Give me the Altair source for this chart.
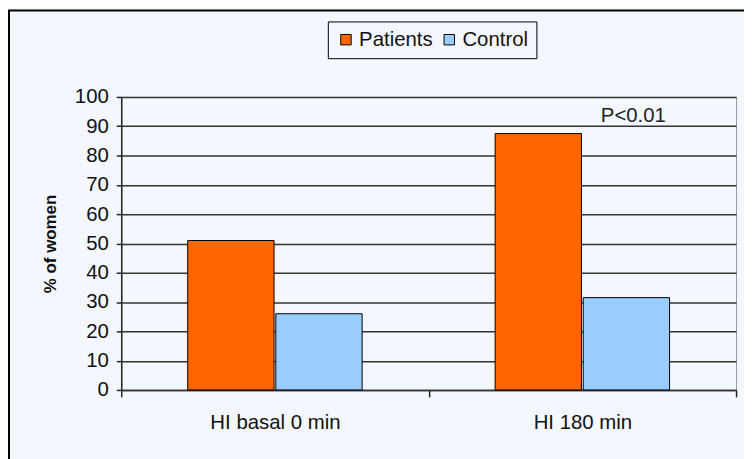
import altair as alt
import pandas as pd

categories = ["HI basal 0 min", "HI 180 min"]
series = ["Patients", "Control"]
patients = [51, 87.5]
control = [26, 31.5]
colors = ["#FF6600", "#99CCFF"]
y_ticks = [0, 10, 20, 30, 40, 50, 60, 70, 80, 90, 100]
annotation_text = ["P<0.01"]
annotation_cat = ["HI 180 min"]
annotation_series = ["Control"]
annotation_y = [93.5]

rows = []
for i, c in enumerate(categories):
    rows.append({"cat": c, "series": "Patients", "value": patients[i]})
    rows.append({"cat": c, "series": "Control", "value": control[i]})
df = pd.DataFrame(rows)
ann = pd.DataFrame({"cat": annotation_cat, "series": annotation_series,
                    "value": annotation_y, "label": annotation_text})

FONT = "Liberation Sans"
BG = "#F4F8FE"
FS = 20.5

y_axis = alt.Axis(title="% of women", values=y_ticks, labelOverlap=False,
                  titleFont=FONT, titleFontSize=17, titleFontWeight="bold",
                  titleColor="#111", titlePadding=15,
                  labelFont=FONT, labelFontSize=FS, labelColor="#111",
                  labelPadding=8, tickSize=5, tickColor="#222", tickWidth=1.5,
                  domainColor="#222", domainWidth=1.5,
                  grid=True, gridColor="#333", gridWidth=1.5)

x_axis = alt.Axis(title=None, labelAngle=0, labelFontSize=FS, labelFont=FONT,
                  labelColor="#111", tickBand="extent", tickSize=7,
                  tickColor="#222", tickWidth=1.5, domainColor="#333",
                  domainWidth=1.5, labelPadding=16, grid=False)

x_enc = alt.X("cat:N", sort=categories,
              scale=alt.Scale(paddingInner=0, paddingOuter=0), axis=x_axis)
xo_enc = alt.XOffset("series:N", sort=series,
                     scale=alt.Scale(paddingInner=0.02, paddingOuter=0.755))

bars = alt.Chart(df).mark_bar(stroke="black", strokeWidth=1).encode(
    x=x_enc,
    xOffset=xo_enc,
    y=alt.Y("value:Q", scale=alt.Scale(domain=[0, 100]), axis=y_axis),
    color=alt.Color("series:N", sort=series,
                    scale=alt.Scale(domain=series, range=colors),
                    legend=alt.Legend(title=None, orient="none", legendX=208, legendY=-76,
                                      direction="horizontal", symbolType="square",
                                      symbolSize=110, symbolStrokeColor="black",
                                      symbolStrokeWidth=1, labelFont=FONT,
                                      labelFontSize=FS, labelColor="#111",
                                      strokeColor="black", fillColor=BG,
                                      padding=8, columnPadding=6, labelOffset=3)),
)

text = alt.Chart(ann).mark_text(font=FONT, fontSize=FS, color="#222",
                                baseline="middle", align="center", dx=7).encode(
    x=alt.X("cat:N", sort=categories, axis=x_axis),
    xOffset=alt.XOffset("series:N", sort=series),
    y=alt.Y("value:Q", axis=y_axis),
    text="label:N",
)

border = alt.Chart(pd.DataFrame({"a": [0]})).mark_rect(
    fillOpacity=0, stroke="black", strokeWidth=2, clip=False).encode(
    x=alt.value(-113), x2=alt.value(700), y=alt.value(-87), y2=alt.value(400))

chart = alt.layer(border, bars, text).properties(
    width=619, height=295,
    autosize=alt.AutoSizeParams(type="none"),
    padding={"left": 114, "top": 88, "right": 8, "bottom": 70},
    background=BG,
).configure_view(stroke="#999", strokeWidth=1)

chart.save("out.html", embed_options={"renderer": "svg", "actions": False})
